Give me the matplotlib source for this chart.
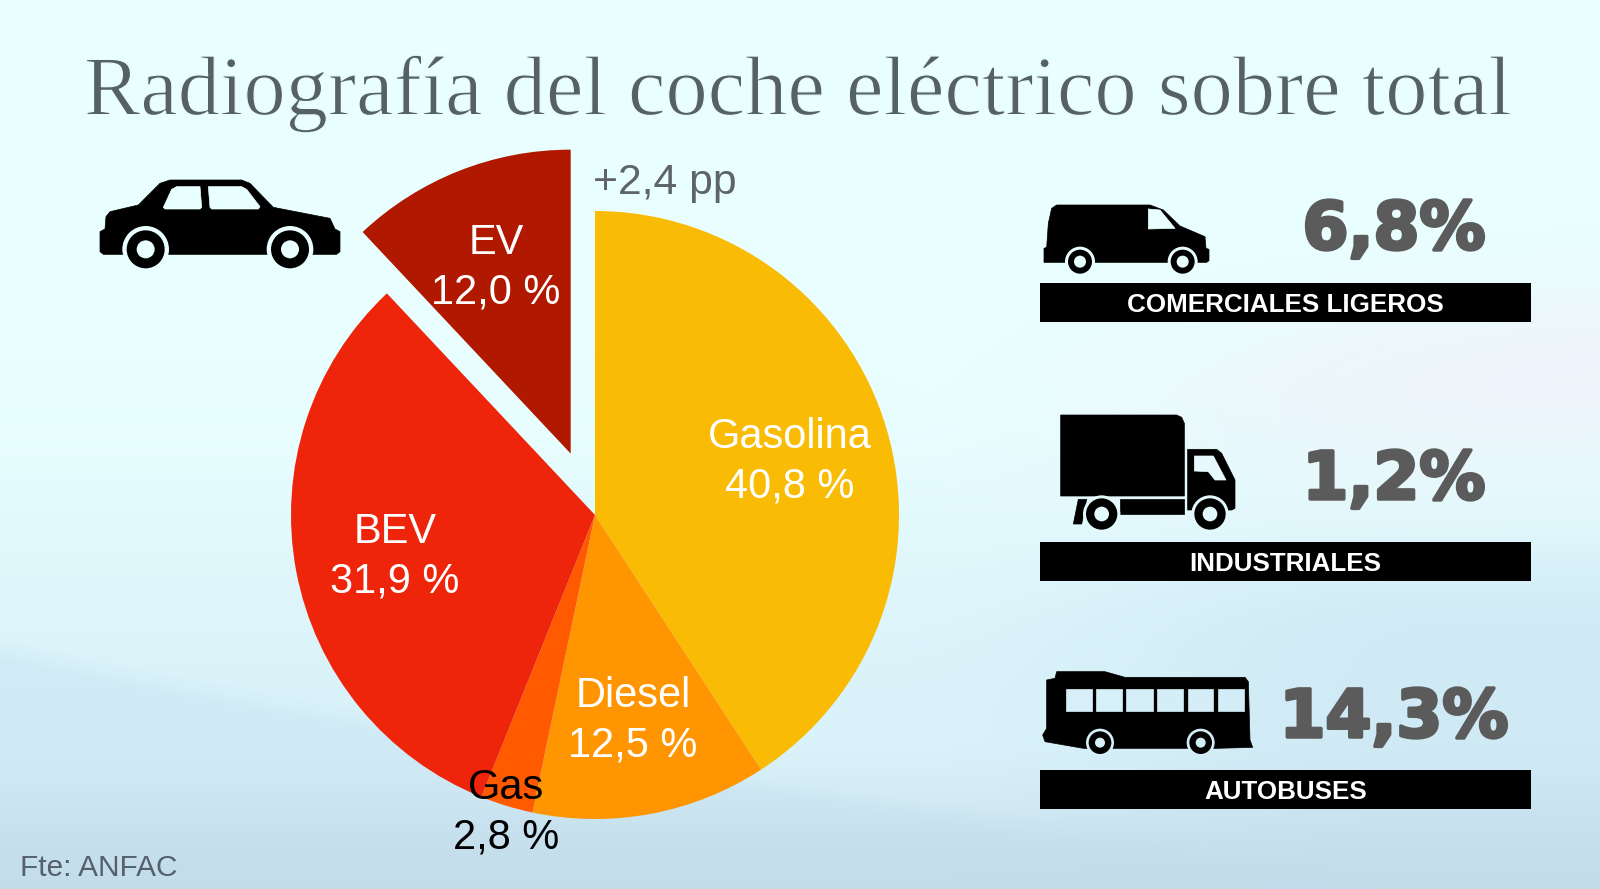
import numpy as np
import matplotlib
matplotlib.use("Agg")
import matplotlib.pyplot as plt
from matplotlib.patches import Polygon, Circle, Rectangle
import matplotlib.patheffects as pe

W, H = 1600, 889

# ---- data
categories = ["Gasolina", "Diesel", "Gas", "BEV", "EV"]
shares = [40.8, 12.5, 2.8, 31.9, 12.0]
pie_colors = ["#F9BB04", "#FF9500", "#FF5A00", "#EE240B", "#B01800"]
label_colors = ["white", "white", "black", "white", "white"]
label_xy = [(790, 461.5), (633, 720.5), (506, 812.5), (395, 556.5), (496, 268)]
pie_radius = 304
explode = [0, 0, 0, 0, 66]

segments = ["COMERCIALES LIGEROS", "INDUSTRIALES", "AUTOBUSES"]
segment_share = ["6,8%", "1,2%", "14,3%"]
segment_bar_y = [(283, 322), (542, 581), (770, 809)]
segment_val_y = [231, 481, 719]
segment_val_x = [1394, 1394, 1394]

title = "Radiografía del coche eléctrico sobre total"
delta = "+2,4 pp"
source = "Fte: ANFAC"


def Y(y):
    return H - y


def smooth(a, b, t):
    t = np.clip((t - a) / (b - a), 0, 1)
    return t * t * (3 - 2 * t)


# ---- background
yy, xx = np.mgrid[0:H, 0:W].astype(float)
u, v = xx / W, yy / H
top = np.array([233, 255, 255.0])
img = np.ones((H, W, 3)) * top
blue = np.array([200, 228, 243.0])
deep = np.array([190, 215, 230.0])
pale = np.array([240, 242, 250.0])


def blend(im, mask, col, a):
    m = (a * mask)[..., None]
    return im * (1 - m) + col * m


# right-hand pale band
img = blend(img, np.exp(-(((v - (0.42 + 0.10 * (1 - u))) / 0.11) ** 2)) * smooth(0.5, 1.0, u), pale, 0.8)
# general downward tint
img = blend(img, smooth(0.40, 0.80, v), blue, 0.45)
# right-hand blue swell
img = blend(img, smooth(0.55, 0.72, v) * smooth(0.55, 0.9, u), blue, 0.6)
# lower-left swoosh
img = blend(img, smooth(-0.01, 0.03, v - (0.72 + 0.30 * u ** 0.9)), blue, 0.55)
img = blend(img, smooth(0.82, 1.0, v), deep, 0.7)
bg_img = np.clip(img, 0, 255) / 255


def bg(x, y):
    return tuple(bg_img[int(np.clip(y, 0, H - 1)), int(np.clip(x, 0, W - 1))])


fig = plt.figure(figsize=(W / 100, H / 100), dpi=100)
ax = fig.add_axes([0, 0, 1, 1])

# ---- pie
ax.pie(shares, colors=pie_colors, explode=explode, startangle=90, counterclock=False,
       center=(595, Y(515)), radius=pie_radius, frame=True,
       wedgeprops=dict(linewidth=0))
ax.imshow(bg_img, extent=(0, W, 0, H), origin="upper", zorder=0, aspect="auto")
ax.set_xlim(0, W)
ax.set_ylim(0, H)
ax.set_aspect("auto")
ax.axis("off")

sans = "Liberation Sans"
for name, val, col, (x, y) in zip(categories, shares, label_colors, label_xy):
    s = f"{val:.1f}".replace(".", ",")
    ax.text(x, Y(y), f"{name}\n{s} %", color=col, ha="center", va="center",
            fontsize=29.9, family=sans, linespacing=1.3, zorder=5)

ax.text(84, Y(94), title, color="#566165", ha="left", va="center",
        fontsize=60.8, family="Liberation Serif", zorder=5,
        path_effects=[pe.Normal(), pe.Stroke(linewidth=0.9, foreground=bg(800, 90))])
ax.text(593, Y(183), delta, color="#5E6468", ha="left", va="center",
        fontsize=30.7, family=sans, zorder=5)
ax.text(20, Y(868), source, color="#55606A", ha="left", va="center",
        fontsize=21.4, family=sans, zorder=5)

# ---- side panels
for seg, val, (y0, y1), vy, vx in zip(segments, segment_share, segment_bar_y,
                                      segment_val_y, segment_val_x):
    ax.add_patch(Rectangle((1040, Y(y1)), 491, y1 - y0, color="black", lw=0, zorder=3))
    ax.text(1285.5, Y((y0 + y1) / 2 + 2.5), seg, color="white", ha="center", va="center",
            fontsize=18.7, family=sans, weight="bold", zorder=5)
    ax.text(vx, Y(vy), val, color="#5B5B5B", ha="center", va="center", fontsize=47.5,
            family="DejaVu Sans", weight="bold", zorder=5,
            path_effects=[pe.withStroke(linewidth=2.5, foreground="#5B5B5B")])


# ---- icons (drawn in zoomed-crop coordinates: origin + z/3)
def icon(ox, oy, bodies, holes, wheels):
    conv = lambda p: [(ox + a / 3, Y(oy + b / 3)) for a, b in p]
    for p in bodies:
        ax.add_patch(Polygon(conv(p), closed=True, color="black", lw=0.5, zorder=4, joinstyle="round"))
    for p in holes:
        c = conv(p)
        cx = np.mean([q[0] for q in c])
        cy = np.mean([q[1] for q in c])
        ax.add_patch(Polygon(c, closed=True, color=bg(cx, H - cy), lw=0.5, zorder=5, joinstyle="round"))
    for (a, b, r0, r1, r2) in wheels:
        x, y = ox + a / 3, oy + b / 3
        col = bg(x, y)
        ax.add_patch(Circle((x, Y(y)), r0 / 3, color=col, lw=0, zorder=4.5))
        ax.add_patch(Circle((x, Y(y)), r1 / 3, color="black", lw=0, zorder=5))
        ax.add_patch(Circle((x, Y(y)), r2 / 3, color=col, lw=0, zorder=6))


icon(80, 150,
     [[(60, 245), (75, 237), (78, 200), (90, 185), (175, 165), (240, 100), (270, 90), (485, 90),
       (510, 100), (580, 172), (750, 205), (765, 237), (780, 245), (780, 305), (770, 313),
       (70, 313), (60, 305)]],
     [[(250, 172), (275, 118), (290, 110), (360, 110), (365, 172), (360, 177), (255, 177)],
      [(385, 110), (485, 110), (500, 118), (540, 170), (535, 177), (395, 177), (390, 172)]],
     [(197, 298, 70, 57, 27), (630, 298, 70, 57, 27)])

icon(1030, 190,
     [[(42, 175), (50, 172), (55, 100), (65, 55), (80, 45), (360, 45), (400, 60), (450, 108),
       (525, 140), (528, 175), (537, 178), (537, 212), (530, 217), (42, 217)]],
     [[(355, 57), (390, 60), (435, 115), (355, 117)]],
     [(150, 215, 45, 36, 18), (458, 215, 45, 36, 18)])

icon(1040, 400,
     [[(62, 45), (410, 45), (425, 52), (433, 70), (433, 288), (62, 288)],
      [(240, 298), (433, 298), (433, 342), (240, 342)],
      [(443, 148), (530, 148), (545, 160), (585, 240), (585, 325), (575, 330), (443, 330)],
      [(115, 298), (140, 298), (125, 372), (100, 372)]],
     [[(463, 168), (520, 168), (558, 240), (525, 240), (505, 215), (463, 213)]],
     [(185, 342, 56, 47, 22), (510, 342, 56, 47, 22)])

win_x = [(107, 185), (197, 275), (289, 368), (382, 460), (473, 550), (563, 641)]
icon(1030, 660,
     [[(50, 60), (75, 55), (80, 35), (225, 35), (285, 52), (645, 52), (655, 65), (660, 240),
       (668, 262), (560, 265), (160, 265), (45, 245), (38, 225), (50, 205)]],
     [[(a, 87), (b, 87), (b, 153), (a, 153)] for a, b in win_x],
     [(210, 248, 42, 34, 15), (512, 248, 42, 34, 15)])

fig.savefig("out.png", dpi=100)
